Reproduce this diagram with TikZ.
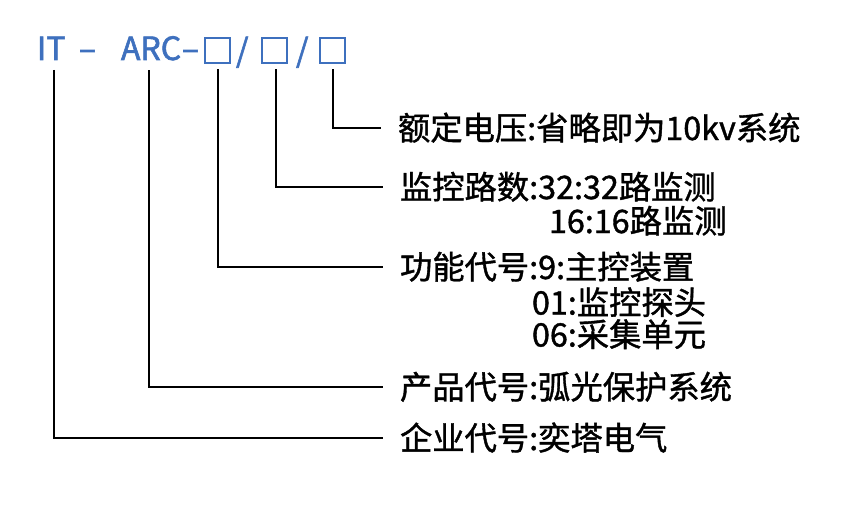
\documentclass[tikz,border=0pt]{standalone}
\usepackage{fontspec}
\setmainfont{Noto Sans CJK SC}
\newfontfamily\thickfont[FakeBold=1.2]{Noto Sans CJK SC}
\newfontfamily\hdrfont[FakeBold=1.8]{Noto Sans CJK SC}
\definecolor{codeblue}{RGB}{62,112,190}
\begin{document}
\begin{tikzpicture}[x=1pt,y=-1pt,
  lbl/.style={font=\thickfont\fontsize{32.3}{32.3}\selectfont, anchor=base west, inner sep=0pt, outer sep=0pt},
  hdr/.style={lbl, font=\hdrfont\fontsize{32}{32}\selectfont, text=codeblue},
  box/.style={draw=codeblue, line width=1.8pt, minimum size=25pt, inner sep=0pt, outer sep=0pt},
  conn/.style={line width=2pt, black}]
\useasboundingbox[fill=white] (0,0) rectangle (853,516);
% header code
\node[hdr] (hIT) at (37,60) {IT};
\node[hdr] (hd1) at (79,60) {–};
\node[hdr] (hARC) at (121,60) {ARC};
\node[hdr] (hd2) at (182,60) {–};
\node[box] (s1) at (217.5,50.5) {};
\node[hdr] (sl1) at (236,62) {/};
\node[box] (s2) at (274.5,50.5) {};
\node[hdr] (sl2) at (296,62) {/};
\node[box] (s3) at (332.5,50.5) {};
% labels
\node[lbl] (l1) at (398,140) {额定电压:省略即为10kv系统};
\node[lbl] (l2) at (400,199) {监控路数:32:32路监测};
\node[lbl] (l2b) at (549,233) {16:16路监测};
\node[lbl] (l3) at (400,279) {功能代号:9:主控装置};
\node[lbl] (l3b) at (532,314.5) {01:监控探头};
\node[lbl] (l3c) at (532,346.5) {06:采集单元};
\node[lbl] (l4) at (400,399) {产品代号:弧光保护系统};
\node[lbl] (l5) at (400,450) {企业代号:奕塔电气};
% connectors
\draw[conn] ([yshift=-6.5pt]s3.south) |- ([xshift=-17pt]l1.west);
\draw[conn] ([xshift=1.5pt,yshift=-6.5pt]s2.south) |- ([xshift=-17pt]l2.west);
\draw[conn] ([xshift=0.5pt,yshift=-6.5pt]s1.south) |- ([xshift=-17pt]l3.west);
\draw[conn] ([xshift=-2pt,yshift=-10pt]hARC.south) |- ([xshift=-17pt]l4.west);
\draw[conn] ([xshift=2.5pt,yshift=-10pt]hIT.south) |- ([xshift=-17pt]l5.west);
\end{tikzpicture}
\end{document}
